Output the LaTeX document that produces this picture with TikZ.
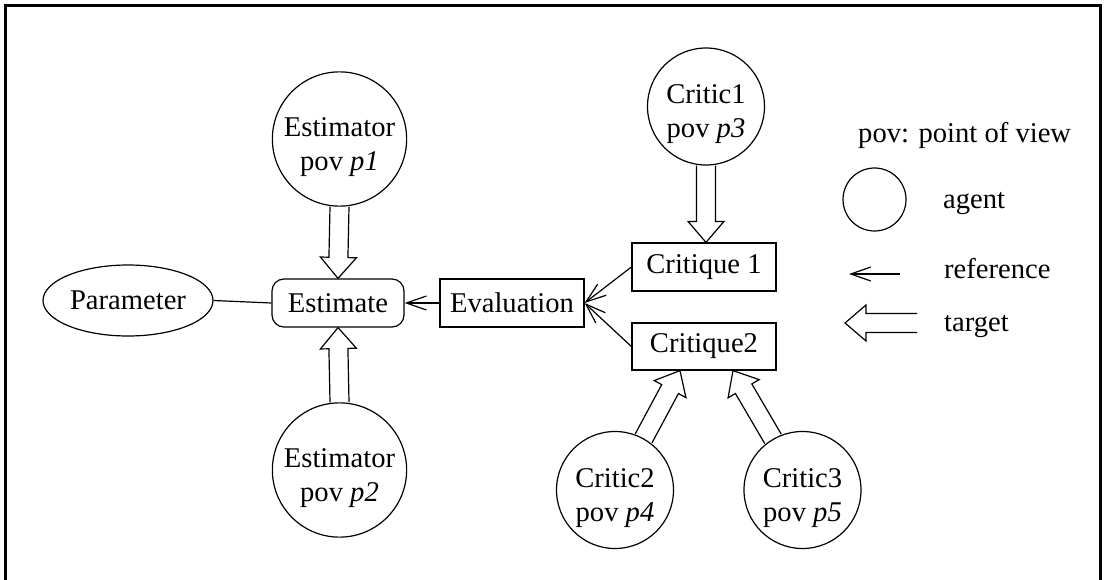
\documentclass[tikz,border=0pt]{standalone}
\usepackage{fontspec}
\setmainfont{Liberation Serif}
\usetikzlibrary{calc,arrows.meta,shapes.geometric}

% hollow "target" arrow from #1 (open tail) to #2 (tip)
\newcommand{\targetarrow}[2]{%
  \path ($(#2)!21pt!(#1)$) coordinate (hb);
  \draw[tgt] ($(#1)!9.5pt!90:(#2)$) -- ($(hb)!9.5pt!90:(#2)$)
    -- ($(hb)!18pt!90:(#2)$) -- (#2) -- ($(hb)!18pt!-90:(#2)$)
    -- ($(hb)!9.5pt!-90:(#2)$) -- ($(#1)!9.5pt!-90:(#2)$);
}
% two-line agent label, set a little below the circle centre
\newcommand{\agentlabel}[2]{\rule{0pt}{35pt}#1\\pov \textit{#2}}

\begin{document}
\begin{tikzpicture}[x=1pt,y=-1pt,
  every node/.style={font=\fontsize{28.6}{34}\selectfont, inner sep=0pt},
  agentc/.style={draw, circle, line width=1.2pt, align=center},
  box/.style={draw, rectangle, line width=1.2pt, minimum width=144pt, minimum height=48pt},
  tgt/.style={line width=1.2pt, line join=miter},
  ref/.style={line width=1.2pt, -{Straight Barb[length=20pt,width=14pt]}},
  plain/.style={line width=1.2pt},
  frame/.style={line width=3pt}]

\useasboundingbox (0,0) rectangle (1105,580);

% frame (open at the bottom)
\coordinate (fa) at (5,580);
\coordinate (fb) at (5,6);
\coordinate (fc) at (1100,6);
\coordinate (fd) at (1100,580);
\draw[frame] (fa) -- (fb) -- (fc) -- (fd);

% central chain
\node[draw, ellipse, line width=1.2pt, minimum width=170pt, minimum height=71pt] (par) at (128,300.5) {Parameter};
\node[box, rounded corners=12pt, minimum width=132pt] (est) at (338,303) {Estimate};
\node[box] (ev) at (512,303) {Evaluation};
\node[box] (cq1) at (704,267) {Critique 1};
\node[box, minimum height=47pt] (cq2) at (704,346.5) {Critique2};

% agents
\node[agentc, minimum size=134pt] (e1) at (339.5,139) {\agentlabel{Estimator}{p1}};
\node[agentc, minimum size=134pt] (e2) at (339.5,470) {\agentlabel{Estimator}{p2}};
\node[agentc, minimum size=117pt] (c1) at (706,106.5) {\agentlabel{Critic1}{p3}};
\node[agentc, minimum size=117pt] (c2) at (615,490) {\agentlabel{Critic2}{p4}};
\node[agentc, minimum size=117pt] (c3) at (802.5,490) {\agentlabel{Critic3}{p5}};

% references
\draw[plain] (par.east) -- (est.west);
\draw[ref] (ev.west) -- (est.east);
\draw[ref] (cq1.west) -- (ev.east);
\draw[ref] (cq2.west) -- (ev.east);

% targets
\targetarrow{e1.south}{est.north}
\targetarrow{e2.north}{est.south}
\coordinate (t3) at (c1.south |- cq1.north);
\targetarrow{c1.south}{t3}
\coordinate (t4) at ($(cq2.south)+(-24,0)$);
\targetarrow{c2.61}{t4}
\coordinate (t5) at ($(cq2.south)+(29,0)$);
\targetarrow{c3.120}{t5}

% legend
\node[anchor=base west] (lpov) at (858,143) {pov: point of view};
\node[draw, circle, line width=1.2pt, minimum size=63pt] (lag) at (874.5,199.5) {};
\node[anchor=base west] (lagt) at (943,208) {agent};
\coordinate (lr1) at (900,274);
\coordinate (lr0) at (849,274);
\draw[ref] (lr1) -- (lr0);
\node[anchor=base west] (lref) at (944,278) {reference};
\coordinate (lt1) at (917,323);
\coordinate (lt0) at (845,323);
\targetarrow{lt1}{lt0}
\node[anchor=base west] (ltgt) at (944,331) {target};

\end{tikzpicture}
\end{document}
